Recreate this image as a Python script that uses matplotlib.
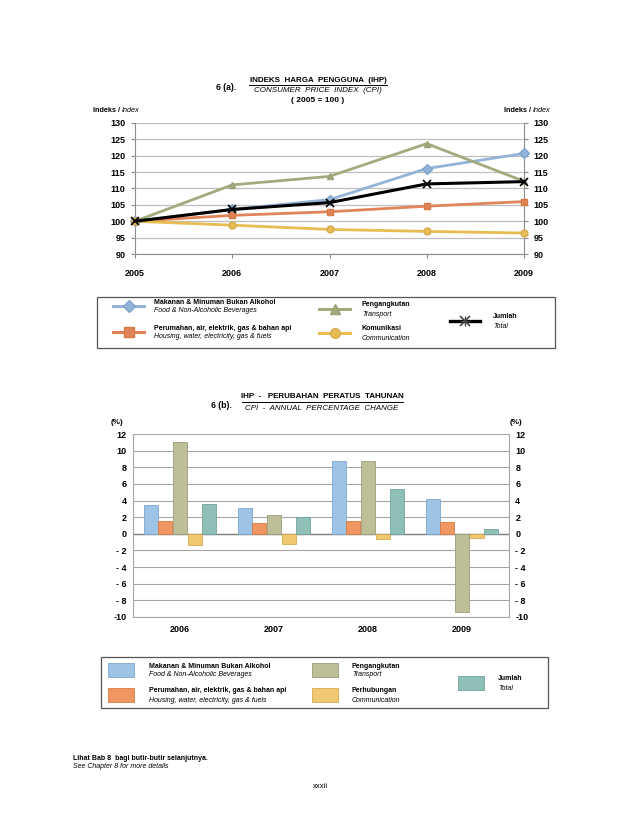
import matplotlib
matplotlib.use("Agg")
import matplotlib.pyplot as plt
import numpy as np
from matplotlib.patches import Rectangle

plt.rcParams['font.family'] = ['Liberation Sans', 'DejaVu Sans']

# ---------------- data ----------------
years_a = [2005, 2006, 2007, 2008, 2009]
food_idx = [100.0, 103.6, 106.6, 116.1, 120.7]
housing_idx = [100.0, 101.8, 102.9, 104.6, 106.0]
transport_idx = [100.0, 111.1, 113.7, 123.7, 112.2]
comm_idx = [100.0, 98.8, 97.5, 96.9, 96.4]
total_idx = [100.0, 103.6, 105.7, 111.4, 112.1]

years_b = ['2006', '2007', '2008', '2009']
food_pct = [3.5, 3.1, 8.8, 4.2]
housing_pct = [1.5, 1.3, 1.6, 1.4]
transport_pct = [11.0, 2.3, 8.8, -9.4]
comm_pct = [-1.4, -1.2, -0.6, -0.5]
total_pct = [3.6, 2.0, 5.4, 0.6]

yticks_a = [90, 95, 100, 105, 110, 115, 120, 125, 130]
yticks_b = [-10, -8, -6, -4, -2, 0, 2, 4, 6, 8, 10, 12]
ytick_labels_b = ['-10', '- 8', '- 6', '- 4', '- 2', '0', '2', '4', '6', '8', '10', '12']

labels_ms = ['Makanan & Minuman Bukan Alkohol', 'Perumahan, air, elektrik, gas & bahan api',
             'Pengangkutan', 'Komunikasi', 'Jumlah']
labels_en = ['Food & Non-Alcoholic Beverages', 'Housing, water, electricity, gas & fuels',
             'Transport', 'Communication', 'Total']
labels_ms_b = ['Makanan & Minuman Bukan Alkohol', 'Perumahan, air, elektrik, gas & bahan api',
               'Pengangkutan', 'Perhubungan', 'Jumlah']

# ---------------- styles ----------------
W, H = 638, 826
line_colors = ['#93B3D8', '#E2845A', '#A3AA7E', '#E8BC50', '#000000']
face_colors = ['#9DC3E6', '#F09660', '#BEBF99', '#F0C872', '#8FC0B8']
edge_colors = ['#7FA6CC', '#D67A45', '#9C9E78', '#D6AC52', '#72A39B']
markers = ['D', 's', '^', 'o', 'x']
LEG = 5.0

fig = plt.figure(figsize=(W / 100, H / 100), dpi=100)

def fr(x0, y0, x1, y1):
    return [x0 / W, 1 - y1 / H, (x1 - x0) / W, (y1 - y0) / H]

# ---------------- chart (a) ----------------
ax1 = fig.add_axes(fr(135, 123, 524, 254))
series_a = [food_idx, housing_idx, transport_idx, comm_idx, total_idx]
order = [3, 1, 0, 2, 4]
for i in order:
    s = series_a[i]
    if i == 4:
        ax1.plot(years_a, s, color='#000000', lw=2.2, marker='x', ms=6, mew=1.2, zorder=5,
                 clip_on=False)
    else:
        ax1.plot(years_a, s, color=line_colors[i], lw=2.0, marker=markers[i], ms=5,
                 mfc=line_colors[i], mec=edge_colors[i], zorder=3 + i * 0.1, clip_on=False)
ax1.set_xlim(2005, 2009)
ax1.set_ylim(90, 130)
ax1.set_yticks(yticks_a)
ax1.set_xticks(years_a)
ax1.grid(axis='y', color='#BFBFBF', lw=0.9)
ax1.set_axisbelow(True)
ax1.spines['top'].set_visible(False)
for sp in ['left', 'right', 'bottom']:
    ax1.spines[sp].set_color('#8C8C8C')
ax1.tick_params(axis='y', labelsize=6.5, length=3, color='#8C8C8C', labelright=True, right=True, pad=4)
ax1.tick_params(axis='x', labelsize=6.5, length=3, color='#8C8C8C', pad=8)
for lab in ax1.get_xticklabels() + ax1.get_yticklabels():
    lab.set_fontweight('bold')

# ---------------- chart (b) ----------------
ax2 = fig.add_axes(fr(133, 434, 509, 617))
series_b = [food_pct, housing_pct, transport_pct, comm_pct, total_pct]
x = np.arange(len(years_b))
bw = 0.155
for i, s in enumerate(series_b):
    ax2.bar(x + (i - 2) * bw, s, width=bw * 0.97, color=face_colors[i],
            edgecolor=edge_colors[i], linewidth=0.6, zorder=3)
ax2.set_xlim(-0.5, len(years_b) - 0.5)
ax2.set_ylim(-10, 12)
ax2.set_yticks(yticks_b)
ax2.set_yticklabels(ytick_labels_b)
ax2.set_xticks(x)
ax2.set_xticklabels(years_b)
ax2.grid(axis='y', color='#A6A6A6', lw=0.8)
ax2.axhline(0, color='#7F7F7F', lw=1.0, zorder=2)
ax2.set_axisbelow(True)
for sp in ['left', 'right', 'bottom', 'top']:
    ax2.spines[sp].set_color('#A6A6A6')
ax2.spines['top'].set_visible(False)
ax2.tick_params(axis='y', labelsize=6.5, length=0, labelright=True, pad=4.5)
ax2.tick_params(axis='x', labelsize=6.5, length=0, pad=6)
for lab in ax2.get_xticklabels() + ax2.get_yticklabels():
    lab.set_fontweight('bold')

# ---------------- overlay for text & legends ----------------
ov = fig.add_axes([0, 0, 1, 1], zorder=10)
ov.set_xlim(0, W)
ov.set_ylim(H, 0)
ov.axis('off')
ov.patch.set_alpha(0)

def txt(xp, yp, s, size=6.5, bold=False, italic=False, ha='left'):
    return ov.text(xp, yp, s, fontsize=size, fontweight='bold' if bold else 'normal',
                   fontstyle='italic' if italic else 'normal', ha=ha, va='center', color='black')

# titles (a)
txt(226, 87, '6 (a).', 6.2, bold=True, ha='center')
txt(318, 80, 'INDEKS  HARGA  PENGGUNA  (IHP)', 5.8, bold=True, ha='center')
ov.plot([249, 387], [85, 85], color='black', lw=0.7)
txt(318, 90, 'CONSUMER  PRICE  INDEX  (CPI)', 5.8, italic=True, ha='center')
txt(318, 101, '( 2005 = 100 )', 6.0, bold=True, ha='center')
txt(120, 110, 'Indeks /', 5.2, bold=True, ha='right')
txt(122, 110, 'Index', 5.2, italic=True)
txt(531, 110, 'Indeks /', 5.2, bold=True, ha='right')
txt(533, 110, 'Index', 5.2, italic=True)

# legend (a)
ov.add_patch(Rectangle((97, 297), 458, 51, fill=False, ec='#555555', lw=0.9))
leg_pos_a = [(113, 144, 306, 154), (113, 144, 332, 154), (319, 350, 309, 362),
             (319, 350, 333, 362), (450, 480, 321, 493)]
for i, (x0, x1, y, tx) in enumerate(leg_pos_a):
    if i == 4:
        ov.plot([x0, x1], [y, y], color='black', lw=2.4)
        ov.plot([(x0 + x1) / 2], [y], marker='x', color='#444444', ms=7, mew=1.2)
        ov.plot([(x0 + x1) / 2], [y], marker='+', color='#444444', ms=7, mew=1.0)
    else:
        ov.plot([x0, x1], [y, y], color=line_colors[i], lw=2.2)
        ov.plot([(x0 + x1) / 2], [y], marker=markers[i], color=line_colors[i],
                mec=edge_colors[i], ms=7 if i != 0 else 6)
    txt(tx, y - 4, labels_ms[i], LEG, bold=True)
    txt(tx, y + 5, labels_en[i], LEG, italic=True)

# titles (b)
txt(221, 405, '6 (b).', 6.2, bold=True, ha='center')
txt(322, 397, 'IHP  -   PERUBAHAN  PERATUS  TAHUNAN', 5.8, bold=True, ha='center')
ov.plot([242, 403], [402, 402], color='black', lw=0.7)
txt(322, 409, 'CPI  -  ANNUAL  PERCENTAGE  CHANGE', 5.7, italic=True, ha='center')
txt(117, 423, '(%)', 5.8, bold=True, ha='center')
txt(516, 423, '(%)', 5.8, bold=True, ha='center')

# legend (b)
ov.add_patch(Rectangle((101, 657), 447, 51, fill=False, ec='#555555', lw=0.9))
leg_pos_b = [(108, 663, 149), (108, 688, 149), (312, 663, 352), (312, 688, 352), (458, 676, 498)]
for i, (x0, y0, tx) in enumerate(leg_pos_b):
    ov.add_patch(Rectangle((x0, y0), 26, 14, fc=face_colors[i], ec=edge_colors[i], lw=0.6))
    txt(tx, y0 + 3, labels_ms_b[i], LEG, bold=True)
    txt(tx, y0 + 12, labels_en[i], LEG, italic=True)

# footer
txt(73, 758, 'Lihat Bab 8  bagi butir-butir selanjutnya.', 5.0, bold=True)
txt(73, 767, 'See Chapter 8 for more details', 5.0, italic=True)
txt(320, 787, 'xxxii', 5.5, ha='center')

fig.savefig('out.png', dpi=100)
